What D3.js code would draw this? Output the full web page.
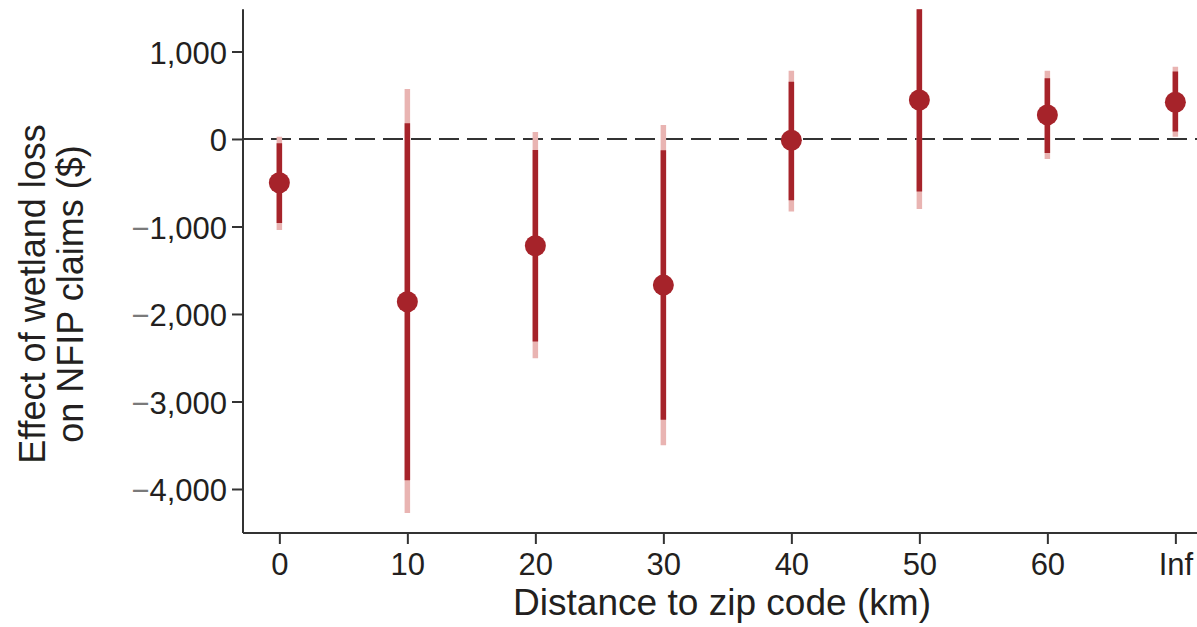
<!DOCTYPE html>
<html>
<head>
<meta charset="utf-8">
<script src="https://cdn.jsdelivr.net/npm/d3@7"></script>
<style>
  html, body { margin: 0; padding: 0; background: #fff; }
  svg { display: block; font-family: "Liberation Sans", Arial, Helvetica, sans-serif; }
</style>
</head>
<body>
<svg id="chart" width="1197" height="627"></svg>
<script>
// Distance bins (km) for the zip-code buffer
const categories = ["0", "10", "20", "30", "40", "50", "60", "Inf"];
// Point estimates ($)
const estimate = [-500, -1860, -1220, -1670, -15, 445, 275, 420];
// Inner (90%) interval bounds
const ciInnerLow  = [-960, -3900, -2315, -3210, -700, -600, -160, 85];
const ciInnerHigh = [-50, 180, -125, -130, 655, 1600, 695, 770];
// Outer (95%) interval bounds
const ciOuterLow  = [-1040, -4275, -2505, -3500, -830, -800, -230, 25];
const ciOuterHigh = [25, 570, 80, 160, 780, 1900, 780, 825];
// Y axis tick values
const yTicks = [1000, 0, -1000, -2000, -3000, -4000];

const svg = d3.select("#chart");
const plotLeft = 243, plotRight = 1197, plotTop = 9.3, plotBottom = 533;

const x = d3.scaleLinear().domain([-0.284, 7.169]).range([plotLeft, plotRight]);
const y = d3.scaleLinear().domain([-4503, 1482]).range([plotBottom, plotTop]);

const textColor = "#231f20";
const axisColor = "#333";
const dark = "#a6232a";
const light = "#e9b4b2";

svg.append("defs").append("clipPath").attr("id", "plotClip")
  .append("rect").attr("x", plotLeft).attr("y", plotTop)
  .attr("width", plotRight - plotLeft).attr("height", plotBottom - plotTop);

// zero reference line
svg.append("line")
  .attr("x1", plotLeft).attr("x2", plotRight)
  .attr("y1", y(0)).attr("y2", y(0))
  .attr("stroke", "#333").attr("stroke-width", 2)
  .attr("stroke-dasharray", "20,8");

const data = categories.map((c, i) => ({
  i, c, est: estimate[i],
  lo1: ciInnerLow[i], hi1: ciInnerHigh[i],
  lo2: ciOuterLow[i], hi2: ciOuterHigh[i]
}));

const marks = svg.append("g").attr("clip-path", "url(#plotClip)");

// outer interval (light)
marks.selectAll("line.outer").data(data).join("line")
  .attr("class", "outer")
  .attr("x1", d => x(d.i)).attr("x2", d => x(d.i))
  .attr("y1", d => y(d.lo2)).attr("y2", d => y(d.hi2))
  .attr("stroke", light).attr("stroke-width", 5.5);

// inner interval (dark)
marks.selectAll("line.inner").data(data).join("line")
  .attr("class", "inner")
  .attr("x1", d => x(d.i)).attr("x2", d => x(d.i))
  .attr("y1", d => y(d.lo1)).attr("y2", d => y(d.hi1))
  .attr("stroke", dark).attr("stroke-width", 5.5);

// point estimates
marks.selectAll("circle").data(data).join("circle")
  .attr("cx", d => x(d.i)).attr("cy", d => y(d.est))
  .attr("r", 10.5).attr("fill", dark);

// axes
const xAxis = svg.append("g")
  .attr("transform", `translate(0,${plotBottom})`)
  .call(d3.axisBottom(x)
    .tickValues(d3.range(categories.length))
    .tickFormat(i => categories[i])
    .tickSize(11).tickPadding(9));

const yAxis = svg.append("g")
  .attr("transform", `translate(${plotLeft},0)`)
  .call(d3.axisLeft(y).tickValues(yTicks).tickSize(11).tickPadding(5));

[xAxis, yAxis].forEach(g => {
  g.select(".domain").attr("stroke", axisColor).attr("stroke-width", 2);
  g.selectAll(".tick line").attr("stroke", axisColor).attr("stroke-width", 2);
  g.selectAll(".tick text").attr("fill", textColor).attr("font-size", 31)
    .attr("font-family", "Liberation Sans, Arial, sans-serif");
});
// keep the domain paths flat (no outer ticks)
xAxis.select(".domain").attr("d", `M${plotLeft},0H${plotRight}`);
yAxis.select(".domain").attr("d", `M0,${plotTop}V${plotBottom}`);

yAxis.selectAll(".tick text")
  .attr("dy", "0.38em")
  .each(function(v) {
    const t = d3.select(this);
    t.text(null);
    if (v < 0) t.append("tspan").attr("fill", "#7a7a7a").text("\u2212");
    t.append("tspan").text(d3.format(",")(Math.abs(v)));
  });

// axis titles
svg.append("text")
  .attr("x", 722).attr("y", 615)
  .attr("text-anchor", "middle")
  .attr("font-size", 36).attr("fill", textColor)
  .attr("textLength", 418).attr("lengthAdjust", "spacingAndGlyphs")
  .text("Distance to zip code (km)");

const yTitle = svg.append("g").attr("transform", "translate(0,294) rotate(-90)");
yTitle.append("text").attr("x", 0).attr("y", 45)
  .attr("text-anchor", "middle").attr("font-size", 36).attr("fill", textColor)
  .text("Effect of wetland loss");
yTitle.append("text").attr("x", 0).attr("y", 83)
  .attr("text-anchor", "middle").attr("font-size", 36).attr("fill", textColor)
  .text("on NFIP claims ($)");
</script>
</body>
</html>
